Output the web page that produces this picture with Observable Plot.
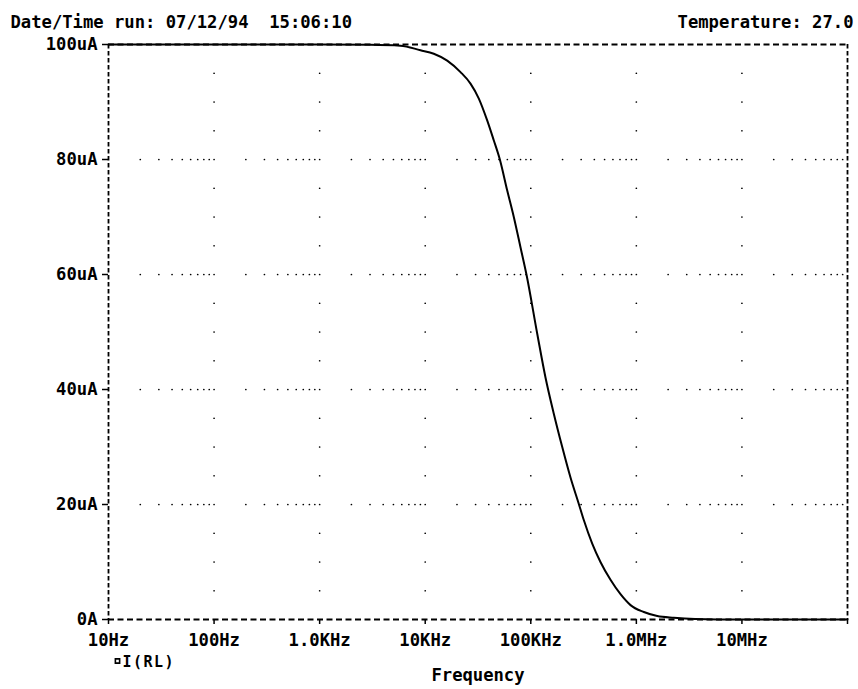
<!DOCTYPE html>
<html><head><meta charset="utf-8">
<script src="https://cdn.jsdelivr.net/npm/d3@7"></script>
<script src="https://cdn.jsdelivr.net/npm/@observablehq/plot@0.6"></script>
<style>
body{margin:0;background:#fff}
svg text{white-space:pre}
</style>
</head><body><div id="chart"></div>
<script>
// Curve I(RL) (frequency in Hz, current in uA)
const frequencyHz = [10, 100, 1000, 3000, 5830, 9020, 12060, 16150, 21590, 26850, 32200, 38640, 44670, 50930, 59820, 69040, 79980, 91000, 115100, 137800, 165200, 198600, 237800, 285100, 317800, 381900, 457100, 568900, 707900, 880500, 1178000, 1577000, 2265000, 3600000, 10000000, 100000000];
const currentUA   = [100, 100, 100, 99.95, 99.8, 99.0, 98.4, 97.2, 95.2, 93.2, 90.6, 86.8, 83.3, 80.0, 74.6, 70.0, 64.7, 60.0, 49.7, 42.1, 35.8, 30.0, 24.7, 20.1, 17.3, 13.2, 10.0, 6.9, 4.4, 2.5, 1.3, 0.6, 0.3, 0.1, 0, 0];

// Axes
const xTickValues = [10, 100, 1e3, 1e4, 1e5, 1e6, 1e7, 1e8];
const xTickLabels = ["10Hz", "100Hz", "1.0KHz", "10KHz", "100KHz", "1.0MHz", "10MHz", ""];
const yTickValues = [0, 20, 40, 60, 80, 100];
const yTickLabels = ["0A", "20uA", "40uA", "60uA", "80uA", "100uA"];
const xDomain = [10, 1e8];
const yDomain = [0, 100];

// Dotted grid
const columnDecades = [100, 1e3, 1e4, 1e5, 1e6, 1e7];
const columnLevels = [5, 10, 15, 25, 30, 35, 45, 50, 55, 65, 70, 75, 85, 90, 95];
const rowDecades = [10, 100, 1e3, 1e4, 1e5, 1e6, 1e7];
const rowMultipliers = [2, 3, 4, 5, 6, 7, 8, 9, 10];
const rowLevels = [20, 40, 60, 80];

// Texts
const headerLeft = "Date/Time run: 07/12/94  15:06:10";
const headerRight = "Temperature: 27.0";
const legendLabel = "I(RL)";
const xLabel = "Frequency";

const curve = frequencyHz.map((f, i) => ({f, v: currentUA[i]}));
const columnDots = columnDecades.flatMap(f => columnLevels.map(v => ({f, v})));
const rowDots = rowDecades.flatMap(d => rowMultipliers.map(m => d * m))
  .filter(f => f < 1e8)
  .flatMap(f => rowLevels.map(v => ({f, v})));

const FONT = "'DejaVu Sans Mono', monospace";
const FS = 17.2;

const chart = Plot.plot({
  width: 858,
  height: 689,
  marginLeft: 108,
  marginRight: 11,
  marginTop: 44,
  marginBottom: 70,
  style: {fontFamily: FONT, fontSize: FS + "px", fontWeight: "bold", color: "#000", background: "#fff"},
  x: {type: "log", domain: xDomain},
  y: {domain: yDomain},
  marks: [
    Plot.dot(columnDots, {x: "f", y: "v", r: 0.85, fill: "#000", stroke: null}),
    Plot.dot(rowDots, {x: "f", y: "v", r: 0.85, fill: "#000", stroke: null}),
    Plot.ruleY(yDomain, {stroke: "#000", strokeWidth: 1.8, strokeDasharray: "6,3.5"}),
    Plot.ruleX(xDomain, {stroke: "#000", strokeWidth: 1.8, strokeDasharray: "4.5,2.5"}),
    Plot.axisX({ticks: xTickValues, tickFormat: d => xTickLabels[xTickValues.indexOf(d)], tickSize: 5, tickPadding: 9, label: null, fontSize: FS, strokeWidth: 1.5}),
    Plot.axisY({ticks: yTickValues, tickFormat: d => yTickLabels[yTickValues.indexOf(d)], tickSize: 6, tickPadding: 5, label: null, fontSize: FS, strokeWidth: 1.5}),
    Plot.line(curve, {x: "f", y: "v", curve: "monotone-x", stroke: "#000", strokeWidth: 2}),
    Plot.text([headerLeft], {text: d => d, frameAnchor: "top-left", textAnchor: "start", dx: -98, dy: -29, fontSize: FS}),
    Plot.text([headerRight], {text: d => d, frameAnchor: "top-right", textAnchor: "end", dx: 6, dy: -29, fontSize: FS}),
    Plot.dot([legendLabel], {frameAnchor: "bottom-left", dx: 9, dy: 41.5, symbol: "square", r: 2.4, stroke: "#000", strokeWidth: 1.6, fill: "none"}),
    Plot.text([legendLabel], {text: d => d, frameAnchor: "bottom-left", textAnchor: "start", dx: 14, dy: 47, fontSize: 15}),
    Plot.text([xLabel], {text: d => d, frameAnchor: "bottom", textAnchor: "middle", dy: 61, fontSize: FS})
  ]
});
// widen the legend label's letter spacing like the plotter font
d3.select(chart).selectAll("text").filter(function() { return this.textContent === legendLabel; }).style("letter-spacing", "1.5px");
document.getElementById("chart").appendChild(chart);
</script>
</body></html>
